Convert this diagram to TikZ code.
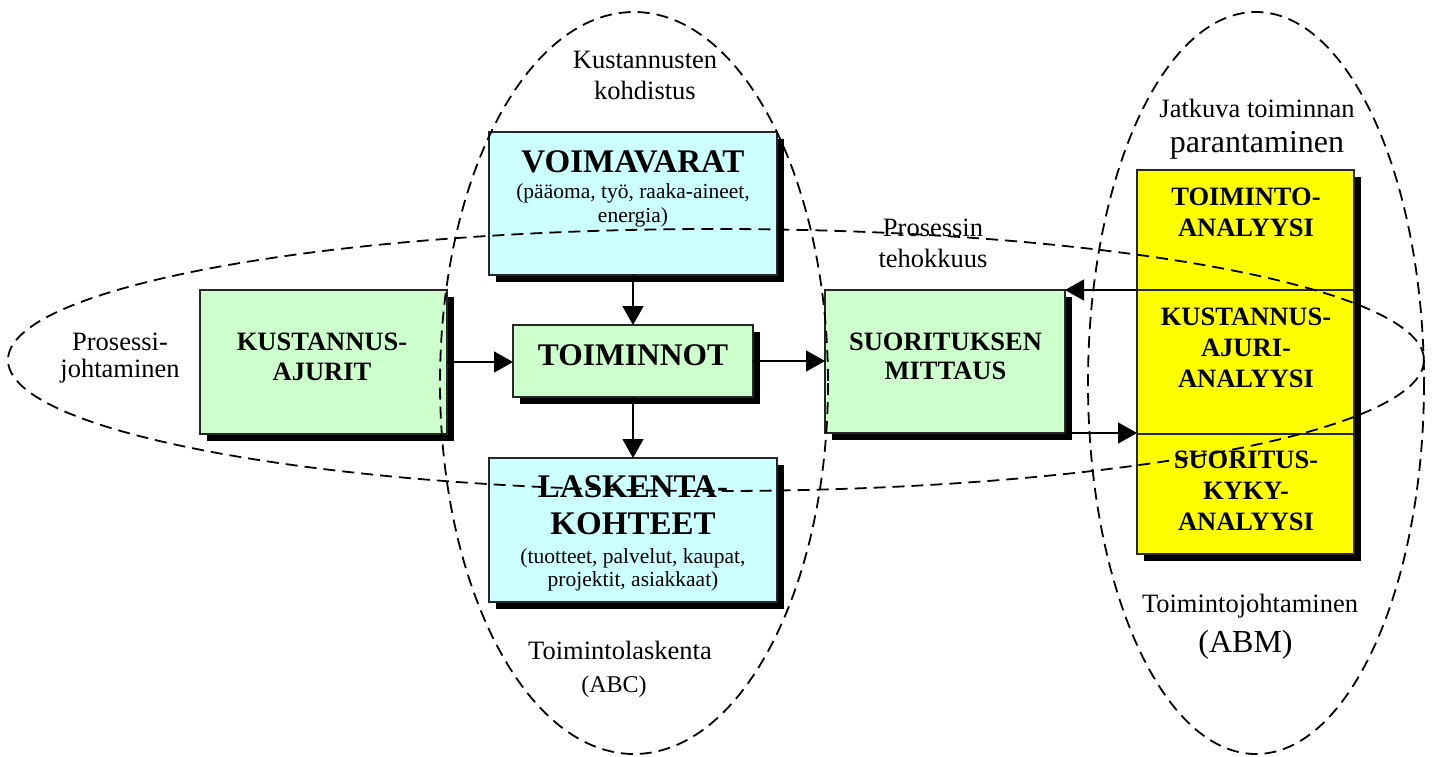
\documentclass[tikz,border=0pt]{standalone}
\usepackage{fontspec}
\setmainfont{Liberation Serif}
\usetikzlibrary{arrows.meta,calc,shadows}

\definecolor{resfill}{HTML}{CCFFFF}
\definecolor{procfill}{HTML}{CCFFCC}
\definecolor{anfill}{HTML}{FFFF00}

\begin{document}
\begin{tikzpicture}[x=0.5pt,y=-0.5pt,
  box/.style={draw=black!85, line width=0.6pt, inner sep=0pt, outer sep=0pt},
  shadowed/.style={box, general shadow={fill=black, shadow xshift=3.5pt, shadow yshift=-3.5pt}},
  flow/.style={line width=0.85pt, -{Triangle[length=9.5pt,width=10.5pt]}},
  zone/.style={dash pattern=on 6pt off 3.5pt, line width=0.9pt},
  txt/.style={inner sep=0pt, outer sep=0pt, align=center},
  title/.style={txt, font=\fontsize{16.5}{18.5}\selectfont\bfseries},
  note/.style={txt, font=\fontsize{10.75}{11.75}\selectfont},
  boxtext/.style={txt, font=\fontsize{13.25}{14.75}\selectfont\bfseries},
  coltext/.style={txt, font=\fontsize{13.25}{15.5}\selectfont\bfseries},
  plain/.style={txt, font=\fontsize{13.25}{15.5}\selectfont},
  large/.style={txt, font=\fontsize{16}{18}\selectfont},
]
\useasboundingbox (0,0) rectangle (1436,756);

% --- boxes -----------------------------------------------------------
\node[shadowed, fill=resfill, minimum width=144pt, minimum height=71.5pt] (voim) at (633,203.5) {};
\node[shadowed, fill=resfill, minimum width=144pt, minimum height=72pt] (lask) at (633,530) {};
\node[shadowed, fill=procfill, minimum width=120pt, minimum height=36pt] (toim) at (633,361) {};
\node[shadowed, fill=procfill, minimum width=123.5pt, minimum height=72pt] (kust) at (323.5,362) {};
\node[shadowed, fill=procfill, minimum width=120pt, minimum height=71.5pt] (suor) at (945,361.5) {};

% analysis column with one common shadow
\coordinate (colNE) at (1354,170);
\coordinate (colSW) at (1137,554);
\fill ($(colNE)+(7,7)$) rectangle ($(colSW)+(7,7)$);
\node[box, fill=anfill, minimum width=108.5pt, minimum height=60pt] (ya) at (1245.5,230) {};
\node[box, fill=anfill, minimum width=108.5pt, minimum height=72pt] (yb) at (1245.5,362) {};
\node[box, fill=anfill, minimum width=108.5pt, minimum height=60pt] (yc) at (1245.5,494) {};

% --- box texts -------------------------------------------------------
\node[title] (voimT) at (633,161.5) {VOIMAVARAT};
\node[note] (voimN) at (633,205.4) {(pääoma, työ, raaka-aineet,\\energia)};
\node[title] (laskT) at (633,505) {LASKENTA-\\KOHTEET};
\node[note] (laskN) at (633,570) {(tuotteet, palvelut, kaupat,\\projektit, asiakkaat)};
\node[txt, font=\fontsize{15.75}{18}\selectfont\bfseries] (toimT) at (633,355) {TOIMINNOT};
\node[boxtext] (kustT) at (322,357) {KUSTANNUS-\\AJURIT};
\node[boxtext] (suorT) at (945.5,356.5) {SUORITUKSEN\\MITTAUS};
\node[coltext] (yaT) at (1246,212) {TOIMINTO-\\ANALYYSI};
\node[coltext] (ybT) at (1246,347.5) {KUSTANNUS-\\AJURI-\\ANALYYSI};
\node[coltext] (ycT) at (1246,491) {SUORITUS-\\KYKY-\\ANALYYSI};

% --- connectors ------------------------------------------------------
\draw[flow] (voim.south) -- (toim.north);
\draw[flow] (toim.south) -- (lask.north);
\draw[flow] (kust.east) -- (kust.east -| toim.west);
\draw[flow] (toim.east) -- (toim.east -| suor.west);
\draw[flow] (yb.north west) -- (suor.north east);
\draw[flow] (suor.south east) -- (suor.south east -| yc.west);

% --- area labels -----------------------------------------------------
\node[plain] (kohd) at (645,75) {Kustannusten\\kohdistus};
\node[plain] (teho) at (933,243) {Prosessin\\tehokkuus};
\node[txt, font=\fontsize{13.25}{13.5}\selectfont] (pjoht) at (120,358) {Prosessi-\\johtaminen};
\node[plain, anchor=base] (abc1) at (620,659) {Toimintolaskenta};
\node[txt, font=\fontsize{12}{13}\selectfont, anchor=base] (abc2) at (614,692) {(ABC)};
\node[plain, anchor=base] (jatk1) at (1257,117) {Jatkuva toiminnan};
\node[large, anchor=base] (jatk2) at (1257,152) {parantaminen};
\node[plain, anchor=base] (abm1) at (1250,612) {Toimintojohtaminen};
\node[large, anchor=base] (abm2) at (1245.5,652) {(ABM)};

% --- dashed areas ----------------------------------------------------
\draw[zone] (634,383) ellipse [x radius=194, y radius=371];
\draw[zone] (1256,383) ellipse [x radius=168, y radius=371];
\draw[zone] (716,360) ellipse [x radius=708, y radius=131];
\end{tikzpicture}
\end{document}
